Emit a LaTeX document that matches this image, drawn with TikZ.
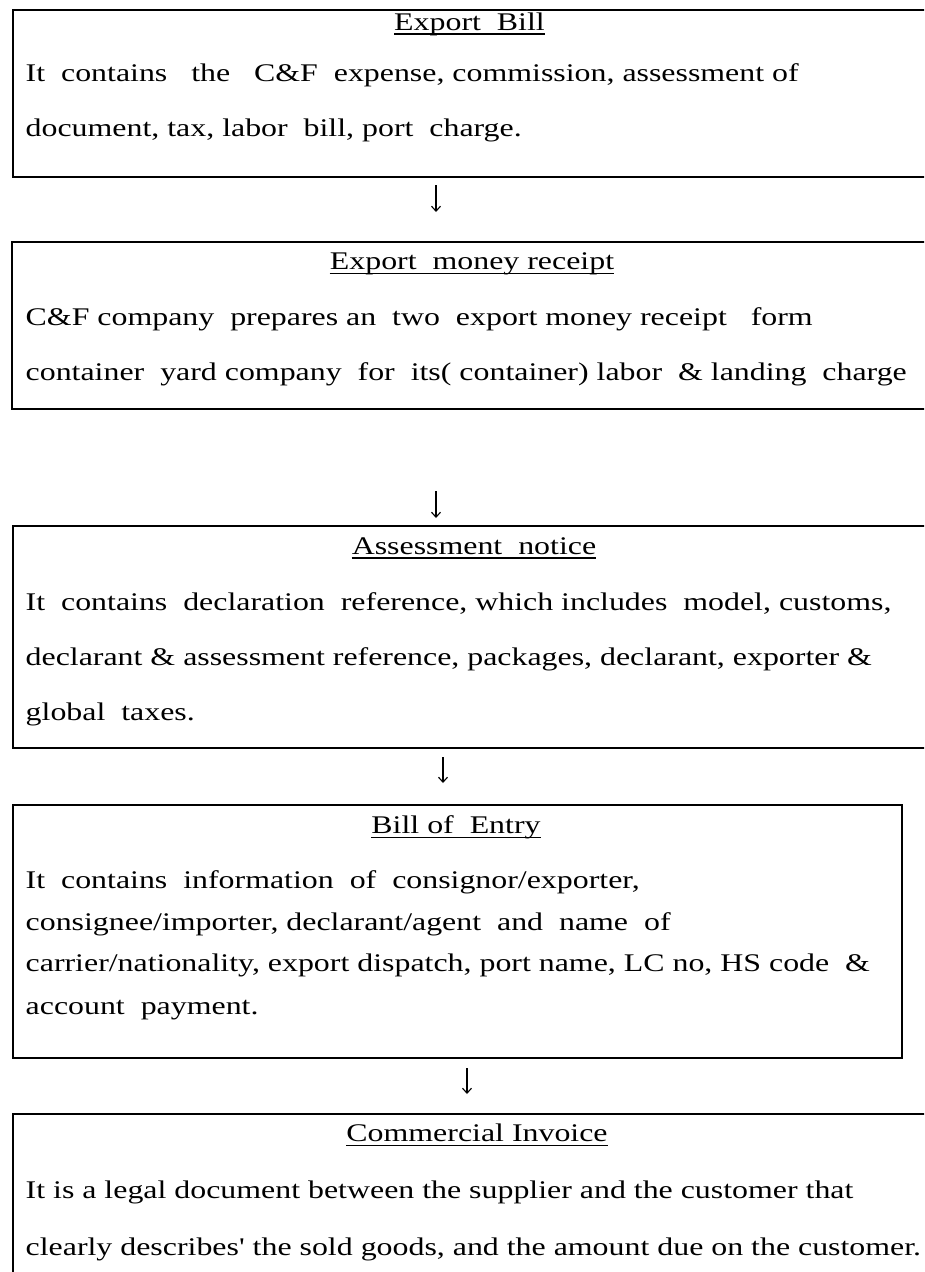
\documentclass[tikz,border=0pt]{standalone}
\usepackage{fontspec}
\setmainfont{Liberation Serif}[Ligatures=TeXOff]
\usepackage{graphicx}
\usetikzlibrary{arrows.meta}
\newcommand{\tx}[1]{\scalebox{1.255}[1]{#1}}
\tikzset{
  boxnode/.style={draw=black, line width=2.2pt, rectangle, inner sep=0pt, anchor=north west},
  txt/.style={anchor=base west, inner sep=0pt, font=\fontsize{25.4}{30}\selectfont},
  ttl/.style={anchor=base, inner sep=0pt, font=\fontsize{25.4}{30}\selectfont},
  uline/.style={line width=1.3pt},
  flow/.style={line width=1.1pt, -{Straight Barb[length=5pt,width=9pt,line width=1.1pt]}}
}
\begin{document}
\begin{tikzpicture}[x=1pt,y=-1pt]
\useasboundingbox (0,0) rectangle (924,1272);
\clip (0,0) rectangle (924,1272);
\fill[white] (0,0) rectangle (924,1272);
% boxes
\node[boxnode, minimum width=928pt, minimum height=167pt] (b1) at (12,9) {};
\node[boxnode, minimum width=929pt, minimum height=166.7pt] (b2) at (11,241) {};
\node[boxnode, minimum width=928pt, minimum height=222pt] (b3) at (12,524.7) {};
\node[boxnode, minimum width=889pt, minimum height=252.7pt] (b4) at (12,804) {};
\node[boxnode, minimum width=928pt, minimum height=177pt] (b5) at (12,1113) {};
% box 1
\node[ttl] (t1) at (469.5,30) {\tx{Export~ Bill}};
\node[txt] (l11) at (25.5,81.7) {\tx{It~ contains~~ the~~ C\&F~ expense, commission, assessment of}};
\node[txt] (l12) at (25.5,136.7) {\tx{document, tax, labor~ bill, port~ charge.}};
% box 2
\node[ttl] (t2) at (472,269.3) {\tx{Export~ money receipt}};
\node[txt] (l21) at (25.5,325) {\tx{C\&F company~ prepares an~ two~ export money receipt~~ form}};
\node[txt] (l22) at (25.5,380) {\tx{container~ yard company~ for~ its( container) labor~ \& landing~ charge}};
% box 3
\node[ttl] (t3) at (474,554) {\tx{Assessment~ notice}};
\node[txt] (l31) at (25.5,610) {\tx{It~ contains~ declaration~ reference, which includes~ model, customs,}};
\node[txt] (l32) at (25.5,665) {\tx{declarant \& assessment reference, packages, declarant, exporter \&}};
\node[txt] (l33) at (25.5,720) {\tx{global~ taxes.}};
% box 4
\node[ttl] (t4) at (456,833.3) {\tx{Bill of~ Entry}};
\node[txt] (l41) at (25.5,888.3) {\tx{It~ contains~ information~ of~ consignor/exporter,}};
\node[txt] (l42) at (25.5,930) {\tx{consignee/importer, declarant/agent~ and~ name~ of}};
\node[txt] (l43) at (25.5,971.7) {\tx{carrier/nationality, export dispatch, port name, LC no, HS code~ \&}};
\node[txt] (l44) at (25.5,1014) {\tx{account~ payment.}};
% box 5
\node[ttl] (t5) at (477,1141.7) {\tx{Commercial Invoice}};
\node[txt] (l51) at (25.5,1198.3) {\tx{It is a legal document between the supplier and the customer that}};
\node[txt] (l52) at (25.5,1255) {\tx{clearly describes' the sold goods, and the amount due on the customer.}};
% underlines
\foreach \t in {t1,t2,t3,t4,t5}
  \draw[uline] ([yshift=-4pt]\t.base west) -- ([yshift=-4pt]\t.base east);
% arrows
\coordinate (a1s) at (436,185); \coordinate (a1e) at (436,212);
\coordinate (a2s) at (436,491); \coordinate (a2e) at (436,518);
\coordinate (a3s) at (443,757); \coordinate (a3e) at (443,783);
\coordinate (a4s) at (467,1068); \coordinate (a4e) at (467,1094);
\draw[flow] (a1s) -- (a1e);
\draw[flow] (a2s) -- (a2e);
\draw[flow] (a3s) -- (a3e);
\draw[flow] (a4s) -- (a4e);
\end{tikzpicture}
\end{document}
